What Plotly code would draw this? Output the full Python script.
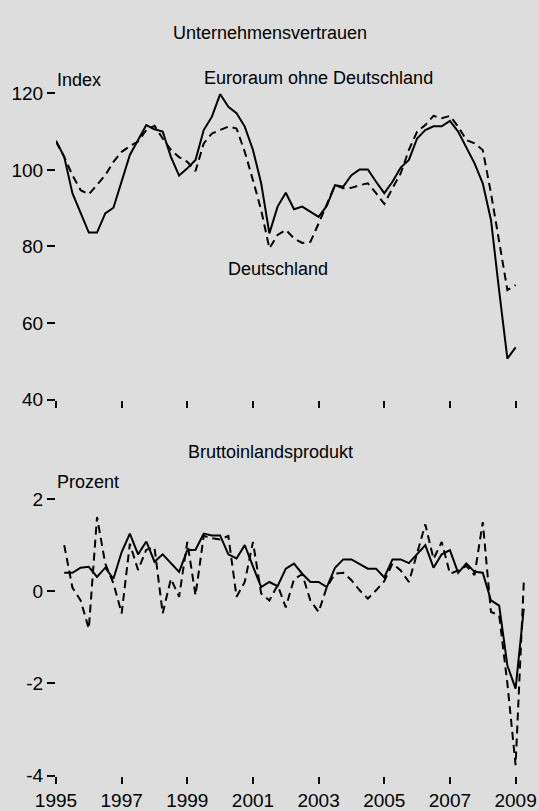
import plotly.graph_objects as go

# ---------------- data (quarterly) ----------------
conf_start = 1995.0          # first quarter shown for confidence
gdp_start = 1995.25          # first quarter shown for GDP

conf_euro_ex_de = [107.6, 103.4, 93.9, 88.6,
                   83.6, 83.6, 88.6, 90.1,
                   96.8, 103.9, 107.8, 111.7,
                   110.6, 110.0, 103.4, 98.5,
                   100.4, 102.6, 110.4, 113.9,
                   119.8, 116.5, 114.8, 111.3,
                   105.2, 96.5, 83.4, 90.4,
                   94.0, 89.7, 90.4, 89.0,
                   87.7, 90.6, 96.0, 95.6,
                   98.6, 100.1, 100.1, 96.9,
                   93.9, 96.9, 100.6, 102.6,
                   108.2, 110.4, 111.4, 111.4,
                   112.8, 110.0, 105.9, 101.7,
                   96.5, 86.9, 68.4, 50.7,
                   53.6]

conf_de = [107.4, 103.4, 98.6, 94.7,
           93.6, 96.0, 98.6, 102.1,
           104.7, 106.2, 107.4, 110.4,
           111.5, 108.2, 105.2, 103.3,
           102.1, 99.7, 106.9, 109.5,
           110.4, 111.3, 110.8, 104.7,
           97.3, 89.5, 79.5, 83.0,
           84.3, 82.1, 80.9, 81.2,
           86.0, 91.2, 96.0, 95.2,
           95.3, 96.0, 96.5, 93.9,
           91.1, 95.2, 99.1, 105.2,
           110.0, 111.7, 114.1, 113.5,
           114.1, 111.3, 107.8, 106.9,
           105.2, 93.9, 80.8, 68.6,
           69.9]

gdp_euro_ex_de = [0.40, 0.40, 0.51,
                  0.53, 0.31, 0.51, 0.27,
                  0.85, 1.25, 0.80, 1.08,
                  0.64, 0.80, 0.60, 0.42,
                  0.89, 0.90, 1.25, 1.21,
                  1.21, 0.80, 0.71, 1.00,
                  0.54, 0.09, 0.20, 0.11,
                  0.49, 0.60, 0.38, 0.20,
                  0.20, 0.09, 0.51, 0.69,
                  0.69, 0.59, 0.49, 0.49,
                  0.30, 0.69, 0.69, 0.61,
                  0.80, 1.00, 0.51, 0.80,
                  0.89, 0.40, 0.60, 0.42,
                  0.40, -0.20, -0.31, -1.61,
                  -2.11, -0.38]

gdp_de = [1.00, 0.08, -0.20,
          -0.81, 1.61, 0.60, 0.17,
          -0.48, 1.03, 0.46, 0.90,
          0.95, -0.48, 0.27, -0.12,
          1.07, -0.09, 1.20, 1.15,
          1.12, 1.20, -0.12, 0.20,
          1.07, -0.05, -0.20, 0.13,
          -0.35, 0.26, 0.37, -0.20,
          -0.45, 0.09, 0.38, 0.40,
          0.24, 0.02, -0.16, 0.02,
          0.22, 0.60, 0.45, 0.20,
          0.85, 1.45, 0.70, 1.07,
          0.38, 0.45, 0.55, 0.35,
          1.50, -0.45, -0.52, -2.00,
          -3.77, 0.20]

x_tick_years = [1995, 1997, 1999, 2001, 2003, 2005, 2007, 2009]
y_ticks_conf = [40, 60, 80, 100, 120]
y_ticks_gdp = [-4, -2, 0, 2]
y_ticks_gdp_text = ["-4", "-2", "0", "2"]

conf_x = [conf_start + 0.25 * i for i in range(len(conf_euro_ex_de))]
gdp_x = [gdp_start + 0.25 * i for i in range(len(gdp_de))]

# ---------------- layout helpers ----------------
W, H = 539, 811
ML, MR = 56, 7
BG = "#dddddd"
FONT = "Liberation Sans, Arial, sans-serif"
FS = 18
TFS = 19


def px_x(px):
    return (px - ML) / (W - ML - MR)


def px_y(py):
    return 1 - py / H


solid = dict(color="black", width=2)
dashed = dict(color="black", width=2, dash="8px,5px")

fig = go.Figure()
fig.add_trace(go.Scatter(x=conf_x, y=conf_euro_ex_de, mode="lines", line=solid,
                         xaxis="x", yaxis="y", showlegend=False))
fig.add_trace(go.Scatter(x=conf_x, y=conf_de, mode="lines", line=dashed,
                         xaxis="x", yaxis="y", showlegend=False))
fig.add_trace(go.Scatter(x=gdp_x, y=gdp_euro_ex_de, mode="lines", line=solid,
                         xaxis="x2", yaxis="y2", showlegend=False))
fig.add_trace(go.Scatter(x=gdp_x, y=gdp_de, mode="lines", line=dashed,
                         xaxis="x2", yaxis="y2", showlegend=False))

axis_common = dict(showgrid=False, zeroline=False, showline=False, automargin=False,
                   ticks="outside", tickcolor="black", tickwidth=2,
                   tickfont=dict(family=FONT, size=TFS, color="black"))

xr = [1995, 2009.5]
fig.update_layout(
    template="none",
    width=W, height=H,
    margin=dict(l=ML, r=MR, t=0, b=0, pad=0),
    paper_bgcolor=BG, plot_bgcolor=BG,
    font=dict(family=FONT, size=FS, color="black"),
    xaxis=dict(axis_common, domain=[0, 1], range=xr, anchor="y",
               tickvals=x_tick_years, showticklabels=False, ticklen=7),
    yaxis=dict(axis_common, domain=[px_y(399.5), px_y(93.3)], range=[40, 120],
               anchor="x", tickvals=y_ticks_conf, ticklen=8),
    xaxis2=dict(axis_common, domain=[0, 1], range=xr, anchor="y2",
                tickvals=x_tick_years, ticktext=[str(v) for v in x_tick_years],
                ticklen=7, ticklabelstandoff=0),
    yaxis2=dict(axis_common, domain=[px_y(775.7), px_y(499)], range=[-4, 2],
                anchor="x2", tickvals=y_ticks_gdp, ticktext=y_ticks_gdp_text,
                ticklen=8),
)


def note(text, px, py, anchor="center"):
    fig.add_annotation(text=text, x=px_x(px), y=px_y(py), xref="paper", yref="paper",
                       xanchor=anchor, yanchor="middle", showarrow=False,
                       font=dict(family=FONT, size=FS, color="black"))


note("Unternehmensvertrauen", 270, 33)
note("Index", 55, 80, "left")
note("Euroraum ohne Deutschland", 318, 78)
note("Deutschland", 278, 269)
note("Bruttoinlandsprodukt", 270, 452)
note("Prozent", 55, 482, "left")

fig.write_html(
    "out.html",
    config={"displayModeBar": False},
    post_script="document.body.style.margin='0';document.body.style.overflow='hidden';",
)
